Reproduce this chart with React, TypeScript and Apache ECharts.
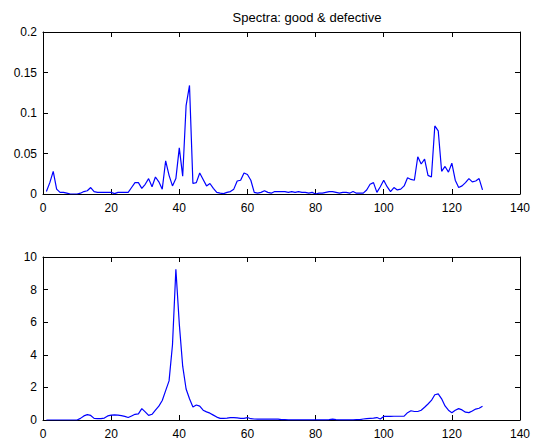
import React, { useEffect, useRef } from "react";
import * as echarts from "echarts";

const titleText = "Spectra: good & defective";

const goodSpectrum = [
  0.003, 0.014, 0.028, 0.006, 0.002, 0.002, 0.001, 0.0, 0.0, 0.0,
  0.001, 0.003, 0.004, 0.008, 0.003, 0.002, 0.002, 0.002, 0.002, 0.002,
  0.0005, 0.002, 0.002, 0.002, 0.002, 0.008, 0.014, 0.014, 0.007, 0.012,
  0.019, 0.009, 0.021, 0.015, 0.006, 0.041, 0.023, 0.01, 0.019, 0.057,
  0.022, 0.109, 0.134, 0.013, 0.014, 0.026, 0.018, 0.01, 0.013, 0.007,
  0.002, 0.001, 0.0005, 0.002, 0.003, 0.006, 0.016, 0.017, 0.026, 0.024,
  0.017, 0.002, 0.001, 0.002, 0.004, 0.002, 0.001, 0.003, 0.003, 0.003,
  0.003, 0.002, 0.003, 0.002, 0.003, 0.002, 0.002, 0.001, 0.002, 0.0,
  0.001, 0.001, 0.002, 0.003, 0.003, 0.002, 0.001, 0.002, 0.002, 0.001,
  0.003, 0.001, 0.001, 0.001, 0.005, 0.012, 0.014, 0.002, 0.009, 0.017,
  0.009, 0.003, 0.008, 0.005, 0.006, 0.01, 0.02, 0.018, 0.017, 0.046,
  0.037, 0.043, 0.023, 0.021, 0.084, 0.078, 0.028, 0.034, 0.027, 0.038,
  0.017, 0.008, 0.01, 0.014, 0.019, 0.015, 0.016, 0.019, 0.005,
];

const defectiveSpectrum = [
  0, 0, 0, 0, 0, 0, 0, 0, 0, 0,
  0.1, 0.25, 0.33, 0.28, 0.1, 0.08, 0.08, 0.12, 0.25, 0.3,
  0.32, 0.3, 0.27, 0.22, 0.15, 0.25, 0.35, 0.38, 0.7, 0.5,
  0.28, 0.35, 0.6, 0.85, 1.2, 1.8, 2.4, 4.6, 9.25, 5.9,
  3.3, 1.9, 1.3, 0.8, 0.92, 0.85, 0.6, 0.5, 0.42, 0.3,
  0.18, 0.1, 0.1, 0.12, 0.15, 0.15, 0.13, 0.1, 0.1, 0.15,
  0.08, 0.06, 0.05, 0.05, 0.05, 0.05, 0.05, 0.05, 0.05, 0.02,
  0.02, 0.01, 0.01, 0.01, 0.01, 0.01, 0.01, 0.01, 0.01, 0.01,
  0.01, 0.01, 0.01, 0.02, 0.05, 0.02, 0.01, 0.01, 0.01, 0.01,
  0.01, 0.02, 0.02, 0.06, 0.08, 0.1, 0.12, 0.15, 0.06, 0.22,
  0.22, 0.22, 0.23, 0.23, 0.23, 0.24, 0.45, 0.57, 0.52, 0.52,
  0.6, 0.78, 0.98, 1.2, 1.55, 1.6, 1.3, 0.86, 0.6, 0.45,
  0.6, 0.7, 0.62, 0.48, 0.45, 0.55, 0.67, 0.72, 0.85,
];

const xTicks = { min: 0, max: 140, interval: 20 };
const topYTicks = { min: 0, max: 0.2, interval: 0.05 };
const bottomYTicks = { min: 0, max: 10, interval: 2 };

const FONT = "Liberation Sans, Arial, sans-serif";

function toPairs(values: number[]) {
  return values.map((v, i) => [i + 1, v]);
}

export default function App() {
  const ref = useRef<HTMLDivElement>(null);

  useEffect(() => {
    if (!ref.current) return;
    const chart = echarts.init(ref.current, undefined, { renderer: "svg" });

    const axisLine = { show: true, onZero: false, lineStyle: { color: "#000", width: 1 } };
    const axisTick = { show: true, inside: true, length: 5, lineStyle: { color: "#000", width: 1 } };
    const axisLabel = { color: "#000", fontSize: 12, fontFamily: FONT };

    const makeX = (gridIndex: number, position: "bottom" | "top", showLabel: boolean) => ({
      type: "value",
      gridIndex,
      position,
      min: xTicks.min,
      max: xTicks.max,
      interval: xTicks.interval,
      axisLine,
      axisTick,
      splitLine: { show: false },
      axisLabel: { ...axisLabel, show: showLabel, margin: 8 },
    });
    const makeY = (gridIndex: number, position: "left" | "right", showLabel: boolean, t: any) => ({
      type: "value",
      gridIndex,
      position,
      min: t.min,
      max: t.max,
      interval: t.interval,
      axisLine,
      axisTick,
      splitLine: { show: false },
      axisLabel: { ...axisLabel, show: showLabel, margin: 6 },
    });

    chart.setOption({
      animation: false,
      backgroundColor: "#fff",
      title: {
        text: titleText,
        left: 302,
        top: 6,
        textAlign: "center",
        textStyle: { color: "#000", fontSize: 13, fontWeight: "normal", fontFamily: FONT },
      },
      grid: [
        { left: 43, right: 13, top: 32, height: 162 },
        { left: 43, right: 13, top: 257, height: 163 },
      ],
      xAxis: [
        makeX(0, "bottom", true),
        makeX(0, "top", false),
        makeX(1, "bottom", true),
        makeX(1, "top", false),
      ],
      yAxis: [
        makeY(0, "left", true, topYTicks),
        makeY(0, "right", false, topYTicks),
        makeY(1, "left", true, bottomYTicks),
        makeY(1, "right", false, bottomYTicks),
      ],
      series: [
        {
          type: "line",
          xAxisIndex: 0,
          yAxisIndex: 0,
          data: toPairs(goodSpectrum),
          showSymbol: false,
          lineStyle: { color: "#0000ff", width: 1.2 },
          itemStyle: { color: "#0000ff" },
        },
        {
          type: "line",
          xAxisIndex: 2,
          yAxisIndex: 2,
          data: toPairs(defectiveSpectrum),
          showSymbol: false,
          lineStyle: { color: "#0000ff", width: 1.2 },
          itemStyle: { color: "#0000ff" },
        },
      ],
    });

    return () => chart.dispose();
  }, []);

  return <div ref={ref} style={{ width: 533, height: 442, position: "absolute", left: 0, top: 0 }} />;
}
